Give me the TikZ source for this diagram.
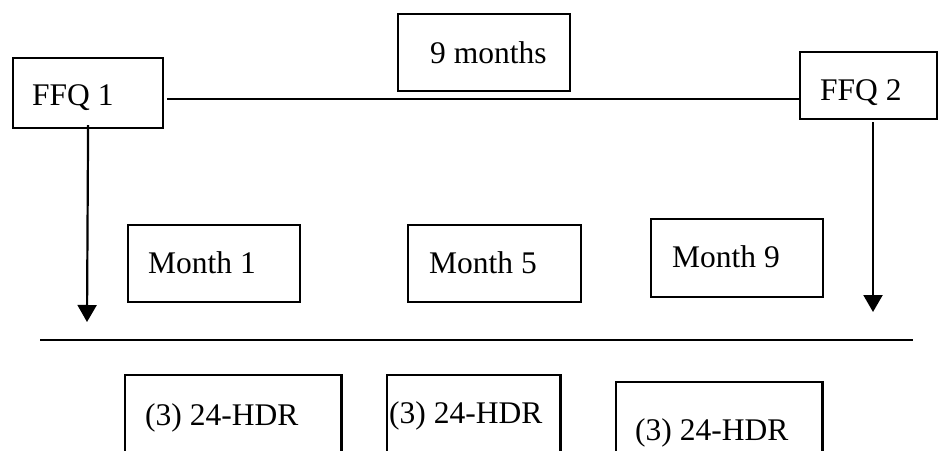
\documentclass[tikz,border=0pt]{standalone}
\usepackage{fontspec}
\setmainfont{Liberation Serif}
\usetikzlibrary{arrows.meta}
\begin{document}
\begin{tikzpicture}[x=1pt,y=-1pt,
  box/.style={draw,line width=2.2pt,rectangle,inner sep=0pt,anchor=north west},
  lbl/.style={anchor=base west,inner sep=0pt,font=\fontsize{31.5}{38}\selectfont},
  conn/.style={line width=2.2pt},
  arr/.style={line width=2.2pt,-{Triangle[length=17pt,width=19pt]}}]
\useasboundingbox (0,0) rectangle (939,450);
% boxes
\node[box,minimum width=150pt,minimum height=70pt] (ffq1) at (12,57) {};
\node[box,minimum width=172pt,minimum height=77pt] (nine) at (397,13) {};
\node[box,minimum width=137pt,minimum height=67pt] (ffq2) at (799,51) {};
\node[box,minimum width=172pt,minimum height=77pt] (m1) at (127,224) {};
\node[box,minimum width=173pt,minimum height=77pt] (m5) at (407,224) {};
\node[box,minimum width=172pt,minimum height=78pt] (m9) at (650,218) {};
% bottom open boxes
\node[inner sep=0pt,minimum width=216pt,minimum height=80pt,anchor=north west] (h1) at (125,375) {};
\node[inner sep=0pt,minimum width=173pt,minimum height=80pt,anchor=north west] (h2) at (387,375) {};
\node[inner sep=0pt,minimum width=206pt,minimum height=73pt,anchor=north west] (h3) at (616,382) {};
\foreach \b in {h1,h2,h3}{
  \draw[conn] (\b.south west) -- (\b.north west) -- (\b.north east) -- (\b.south east);
}
% labels
\node[lbl] (tffq1) at (32,105) {FFQ 1};
\node[lbl] (tnine) at (430,63) {9 months};
\node[lbl] (tffq2) at (820,100) {FFQ 2};
\node[lbl] (tm1) at (148,273) {Month 1};
\node[lbl] (tm5) at (429,273) {Month 5};
\node[lbl] (tm9) at (672,267) {Month 9};
\node[lbl] (th1) at (145,425) {(3) 24-HDR};
\node[lbl] (th2) at (389,423) {(3) 24-HDR};
\node[lbl] (th3) at (635,440) {(3) 24-HDR};
% connectors
\coordinate (a1) at (87,322);
\coordinate (a2s) at (873,122);
\coordinate (a2) at (873,312);
\coordinate (l1) at (40,340);
\coordinate (l2) at (913,340);
\draw[conn] ([xshift=3pt]ffq1.east |- 0,99) -- (ffq2.west |- 0,99);
\draw[arr] ([yshift=4pt]ffq1.south) -- (a1);
\draw[arr] (a2s) -- (a2);
\draw[conn] (l1) -- (l2);
\end{tikzpicture}
\end{document}
